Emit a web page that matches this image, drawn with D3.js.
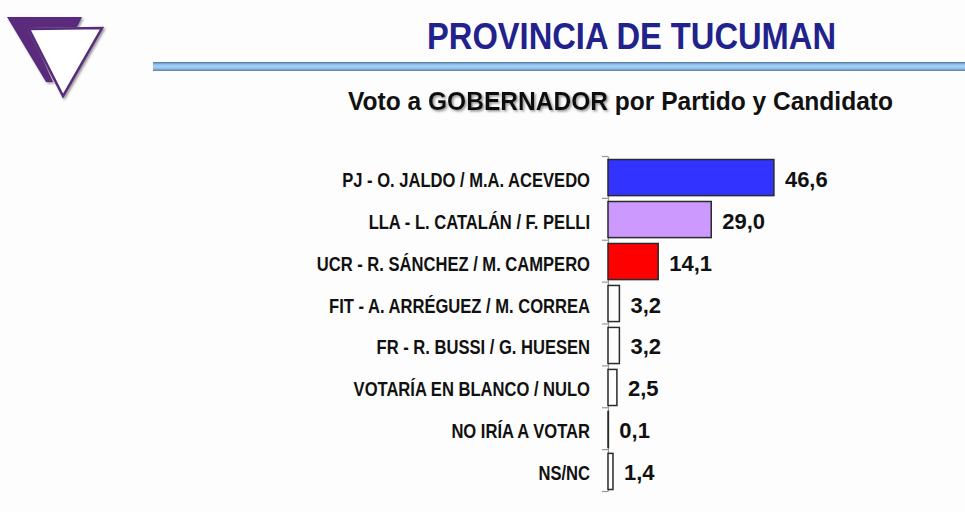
<!DOCTYPE html>
<html>
<head>
<meta charset="utf-8">
<script src="https://cdn.jsdelivr.net/npm/d3@7"></script>
<style>
  body { margin: 0; background: #fdfdfd; }
  svg { display: block; font-family: "Liberation Sans", Arial, sans-serif; }
</style>
</head>
<body>
<div id="chart"></div>
<script>
const categories = [
    'PJ - O. JALDO / M.A. ACEVEDO',
    'LLA - L. CATALÁN / F. PELLI',
    'UCR - R. SÁNCHEZ / M. CAMPERO',
    'FIT - A. ARRÉGUEZ / M. CORREA',
    'FR - R. BUSSI / G. HUESEN',
    'VOTARÍA EN BLANCO / NULO',
    'NO IRÍA A VOTAR',
    'NS/NC'
];
const values = [46.6, 29.0, 14.1, 3.2, 3.2, 2.5, 0.1, 1.4];
const barColors = ['#3333ff', '#cc99ff', '#ff0000', '#ffffff', '#ffffff', '#ffffff', '#ffffff', '#ffffff'];

const W = 965, H = 512;
const svg = d3.select('#chart')
    .append('svg')
    .attr('width', W)
    .attr('height', H);

const defs = svg.append('defs');
const grad = defs.append('linearGradient')
    .attr('id', 'rule')
    .attr('x1', 0).attr('y1', 0).attr('x2', 0).attr('y2', 1);
[['0%', '#4f7594'], ['25%', '#8fbbe6'], ['50%', '#a6d0fb'], ['75%', '#8fbbe6'], ['100%', '#5a7e9c']]
    .forEach(s => grad.append('stop').attr('offset', s[0]).attr('stop-color', s[1]));

const shadow = defs.append('filter').attr('id', 'shadow')
    .attr('x', '-10%').attr('y', '-20%').attr('width', '120%').attr('height', '160%');
shadow.append('feDropShadow')
    .attr('dx', 1.5).attr('dy', 1.5).attr('stdDeviation', 1.2)
    .attr('flood-color', '#777').attr('flood-opacity', 0.8);

// logo
const logo = svg.append('g');
logo.append('polygon')
    .attr('points', '7,17 82,17 77,27 29,28 53,82 46,82')
    .attr('fill', '#5a2a7c')
    .attr('filter', 'url(#shadow)');
logo.append('polygon')
    .attr('points', '29,29 102,28 63,96')
    .attr('fill', '#ffffff')
    .attr('stroke', '#5a2a7c')
    .attr('stroke-width', 2.5)
    .attr('filter', 'url(#shadow)');

// title
svg.append('text')
    .attr('x', 427).attr('y', 49)
    .attr('textLength', 409)
    .attr('lengthAdjust', 'spacingAndGlyphs')
    .style('font-size', '37px')
    .style('font-weight', 'bold')
    .style('fill', '#22228c')
    .text('PROVINCIA DE TUCUMAN');

svg.append('rect')
    .attr('x', 153).attr('y', 62)
    .attr('width', W - 153).attr('height', 9)
    .attr('fill', 'url(#rule)');

const sub = svg.append('text')
    .attr('x', 348).attr('y', 110)
    .attr('textLength', 545)
    .attr('lengthAdjust', 'spacingAndGlyphs')
    .style('font-size', '26px')
    .style('font-weight', 'bold')
    .style('fill', '#111');
sub.append('tspan').text('Voto a ');
sub.append('tspan').attr('filter', 'url(#shadow)').text('GOBERNADOR');
sub.append('tspan').text(' por Partido y Candidato');

// chart
const x0 = 608;
const xScale = d3.scaleLinear()
    .domain([0, 50])
    .range([0, 178]);
const yScale = d3.scaleBand()
    .domain(categories)
    .range([157, 492])
    .paddingInner(0.14)
    .paddingOuter(0.06);
const color = d3.scaleOrdinal().domain(categories).range(barColors);

const g = svg.append('g').attr('transform', `translate(${x0}, 0)`);

// axis with ticks between categories
const edge = d3.scaleLinear().domain([0, categories.length]).range([156, 491]);
const axis = g.append('g')
    .call(d3.axisLeft(edge).ticks(categories.length).tickSize(6).tickSizeOuter(0).tickFormat(''));
axis.selectAll('path, line').attr('stroke', '#9a9a9a').attr('stroke-width', 1.2);

g.selectAll('.bar')
    .data(values)
    .enter()
    .append('rect')
    .classed('bar', true)
    .attr('x', 0)
    .attr('y', (d, i) => yScale(categories[i]))
    .attr('width', d => xScale(d))
    .attr('height', yScale.bandwidth())
    .attr('fill', (d, i) => color(categories[i]))
    .attr('stroke', '#2a2a2a')
    .attr('stroke-width', 1.5);

g.selectAll('.val')
    .data(values)
    .enter()
    .append('text')
    .classed('val', true)
    .attr('x', d => xScale(d) + 11)
    .attr('y', (d, i) => yScale(categories[i]) + yScale.bandwidth() / 2 + 9)
    .style('font-size', '22px')
    .style('font-weight', 'bold')
    .style('fill', '#111')
    .text(d => d.toFixed(1).replace('.', ','));

// condensed category labels
const labels = svg.append('g').attr('transform', 'translate(590, 0) scale(0.85, 1)');
labels.selectAll('.cat')
    .data(categories)
    .enter()
    .append('text')
    .classed('cat', true)
    .attr('x', 0)
    .attr('y', d => yScale(d) + yScale.bandwidth() / 2 + 9)
    .attr('text-anchor', 'end')
    .style('font-size', '19.5px')
    .style('font-weight', 'bold')
    .style('fill', '#111')
    .text(d => d);
</script>
</body>
</html>
